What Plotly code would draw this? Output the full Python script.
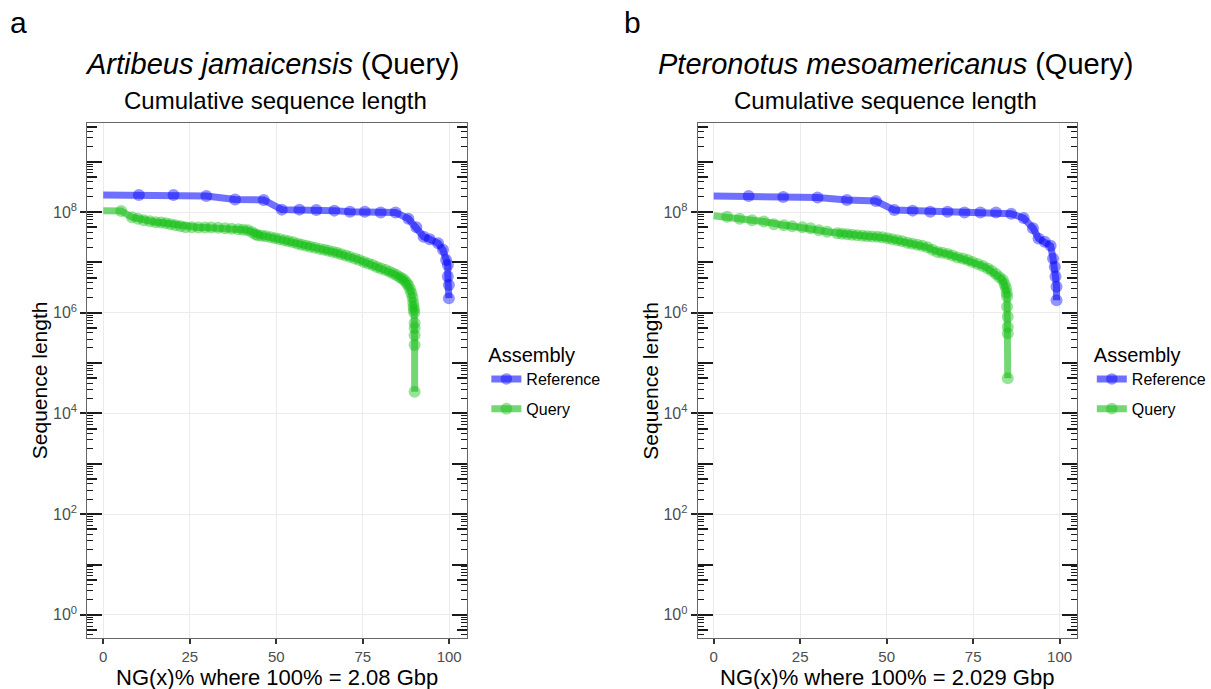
import plotly.graph_objects as go

W, H = 1211, 689

# ---------------- data ----------------
# Panel a: Artibeus jamaicensis
ref_a_x = [0, 10.3, 20.3, 29.8, 38.1, 46.4, 51.6, 56.7, 61.6, 66.8,
           71.3, 75.6, 80.2, 84.5, 88.2, 90.5, 92.6, 94.4, 96.8, 98.2,
           99.1, 99.6, 99.6, 99.9, 99.9]
ref_a_len = [2.19e8, 2.19e8, 2.19e8, 2.09e8, 1.78e8, 1.74e8, 1.12e8, 1.12e8, 1.10e8, 1.07e8,
             1.02e8, 1.02e8, 9.8e7, 9.8e7, 7.4e7, 5.0e7, 3.24e7, 2.88e7, 2.4e7, 1.78e7,
             1.12e7, 8.9e6, 5.25e6, 3.55e6, 1.95e6]

qry_a_x = [0, 5.2, 8.3, 10.0, 11.7, 13.5, 15.2, 16.7, 18.1, 19.5,
           20.9, 22.4, 23.8, 25.6, 27.5, 29.4, 31.2, 33.2, 35.2, 37.1,
           39.0, 40.4, 41.8, 43.0, 44.0, 44.7, 45.8, 47.0, 48.4, 49.7,
           51.0, 52.4, 53.6, 54.9, 56.2, 57.4, 58.7, 59.9, 61.2, 62.6,
           63.9, 65.1, 66.4, 67.6, 68.8, 70.1, 71.3, 72.7, 74.0, 75.4,
           76.6, 77.9, 79.1, 80.3, 81.6, 82.8, 83.8, 84.8, 85.7, 86.4,
           87.1, 87.7, 88.2, 88.7, 89.1, 89.4, 89.6, 89.7, 89.8, 89.9,
           90.0, 90.0, 90.0, 90.0, 90.0]
qry_a_len = [1.07e8, 1.05e8, 7.9e7, 7.4e7, 6.9e7, 6.6e7, 6.3e7, 6.2e7, 6.0e7, 5.75e7,
             5.5e7, 5.25e7, 5.0e7, 4.98e7, 4.96e7, 4.95e7, 4.93e7, 4.9e7, 4.8e7, 4.68e7,
             4.57e7, 4.47e7, 4.37e7, 3.98e7, 3.63e7, 3.47e7, 3.39e7, 3.31e7, 3.16e7, 3.02e7,
             2.88e7, 2.75e7, 2.63e7, 2.51e7, 2.34e7, 2.24e7, 2.14e7, 2.04e7, 1.95e7, 1.86e7,
             1.78e7, 1.70e7, 1.62e7, 1.55e7, 1.45e7, 1.38e7, 1.29e7, 1.20e7, 1.12e7, 1.02e7,
             9.5e6, 8.9e6, 8.1e6, 7.6e6, 7.1e6, 6.5e6, 6.0e6, 5.6e6, 5.1e6, 4.8e6,
             4.4e6, 3.9e6, 3.5e6, 2.95e6, 2.45e6, 2.0e6, 1.58e6, 1.32e6, 1.15e6, 1.0e6,
             6.3e5, 5.0e5, 3.6e5, 2.3e5, 2.7e4]

# Panel b: Pteronotus mesoamericanus
ref_b_x = [0, 10.1, 20.1, 30.0, 38.5, 46.9, 52.2, 57.5, 62.6, 67.6,
           72.5, 77.1, 81.6, 86.0, 89.6, 92.3, 93.9, 95.7, 97.4, 98.1,
           98.6, 98.8, 99.1, 99.1]
ref_b_len = [2.09e8, 2.09e8, 2.0e8, 1.95e8, 1.74e8, 1.66e8, 1.10e8, 1.07e8, 1.02e8, 1.02e8,
             9.8e7, 9.8e7, 9.8e7, 9.3e7, 7.6e7, 4.8e7, 3.0e7, 2.57e7, 2.14e7, 1.20e7,
             8.1e6, 5.25e6, 3.3e6, 1.78e6]

qry_b_x = [0, 3.9, 7.5, 11.1, 14.5, 17.4, 20.3, 22.7, 25.6, 28.0,
           30.4, 32.8, 35.7, 37.1, 38.6, 40.0, 41.5, 43.0, 44.4, 45.8,
           47.3, 48.7, 50.2, 51.6, 53.1, 54.5, 56.0, 57.4, 58.9, 60.3,
           61.8, 63.2, 64.7, 66.1, 67.6, 69.0, 70.5, 72.0, 73.4, 74.8,
           76.3, 77.8, 79.2, 80.4, 81.6, 82.6, 83.6, 84.1, 84.5, 84.7,
           84.8, 84.8, 85.0, 85.0, 85.0, 85.0]
qry_b_len = [8.5e7, 8.1e7, 7.4e7, 6.9e7, 6.5e7, 5.75e7, 5.5e7, 5.25e7, 5.0e7, 4.8e7,
             4.37e7, 4.07e7, 3.8e7, 3.72e7, 3.63e7, 3.55e7, 3.47e7, 3.39e7, 3.31e7, 3.27e7,
             3.24e7, 3.16e7, 3.02e7, 2.88e7, 2.75e7, 2.63e7, 2.45e7, 2.34e7, 2.24e7, 2.14e7,
             2.0e7, 1.78e7, 1.62e7, 1.55e7, 1.48e7, 1.38e7, 1.26e7, 1.20e7, 1.12e7, 1.02e7,
             9.3e6, 8.5e6, 7.6e6, 6.8e6, 5.9e6, 5.1e6, 4.5e6, 3.7e6, 3.1e6, 2.5e6,
             2.1e6, 1.32e6, 8.3e5, 5.25e5, 3.9e5, 5.0e4]

x_ticks = [0, 25, 50, 75, 100]
y_label_vals = [1e0, 1e2, 1e4, 1e6, 1e8]
y_label_text = ["10<sup>0</sup>", "10<sup>2</sup>", "10<sup>4</sup>", "10<sup>6</sup>", "10<sup>8</sup>"]

panel_letters = ["a", "b"]
species = ["Artibeus jamaicensis", "Pteronotus mesoamericanus"]
x_titles = ["NG(x)% where 100% = 2.08 Gbp", "NG(x)% where 100% = 2.029 Gbp"]
series_names = ["Reference", "Query"]

# ---------------- styling / layout ----------------
FONT = "Liberation Sans, Arial, Helvetica, sans-serif"
BLUE_LINE = "rgba(0,0,255,0.56)"
BLUE_MK = "rgba(0,0,255,0.6)"
GREEN_LINE = "rgba(30,190,30,0.62)"
GREEN_MK = "rgba(20,190,20,0.62)"

def px(xp):
    return xp / W

def py(yp):
    return 1 - yp / H

panels = [
    dict(x0=88, x1=470, title_x=274, sub_x=278, letter_x=8, leg_x=490,
         xa="x", ya="y", legend="legend",
         data=((ref_a_x, ref_a_len), (qry_a_x, qry_a_len))),
    dict(x0=703, x1=1085, title_x=902, sub_x=892, letter_x=627, leg_x=1100,
         xa="x2", ya="y2", legend="legend2",
         data=((ref_b_x, ref_b_len), (qry_b_x, qry_b_len))),
]
Y_TOP, Y_BOT = 123, 638
XR = [-4.6, 105.0]
YR = [-0.46, 9.77]

long_ticks = [10.0 ** k for k in range(0, 10)]
mid_ticks = [5 * 10.0 ** k for k in range(-1, 10)]
short_ticks = [m * 10.0 ** k for k in range(-1, 10) for m in (2, 3, 4, 6, 7, 8, 9)]

fig = go.Figure()
layout = dict(
    width=W, height=H, margin=dict(l=0, r=0, t=0, b=0),
    paper_bgcolor="white", plot_bgcolor="white",
    font=dict(family=FONT, color="black"),
    showlegend=True,
)
annotations = []
overlay_idx = 3

for i, p in enumerate(panels):
    xdom = [px(p["x0"]), px(p["x1"])]
    ydom = [py(Y_BOT), py(Y_TOP)]
    xk = "xaxis" if i == 0 else "xaxis2"
    yk = "yaxis" if i == 0 else "yaxis2"
    layout[xk] = dict(
        domain=xdom, range=XR, anchor=p["ya"], tickmode="array", tickvals=x_ticks,
        ticks="outside", ticklen=5, tickwidth=1.5, tickcolor="#333",
        tickfont=dict(size=15, color="#4d4d4d"),
        showgrid=True, gridcolor="#ebebeb", gridwidth=1, zeroline=False,
        showline=True, linecolor="#666", linewidth=1.2, mirror=True,
    )
    layout[yk] = dict(
        domain=ydom, type="log", range=YR, anchor=p["xa"], tickmode="array",
        tickvals=y_label_vals, ticktext=y_label_text,
        ticks="outside", ticklen=6, tickwidth=2, tickcolor="#222",
        tickfont=dict(size=16, color="#4d4d4d"),
        showgrid=True, gridcolor="#ebebeb", gridwidth=1, zeroline=False,
        showline=True, linecolor="#666", linewidth=1.2, mirror=True,
    )
    # annotation_logticks-style inner ticks (long / mid / short), both sides
    for vals, ln, wd in ((long_ticks, 15, 1.8), (mid_ticks, 10, 1.5), (short_ticks, 6, 1.3)):
        key = "yaxis%d" % overlay_idx
        layout[key] = dict(
            domain=ydom, type="log", range=YR, anchor=p["xa"], overlaying=p["ya"],
            side="left", tickmode="array", tickvals=vals, showticklabels=False,
            ticks="inside", ticklen=ln, tickwidth=wd, tickcolor="#1a1a1a",
            showgrid=False, zeroline=False, showline=False, mirror="ticks",
        )
        fig.add_trace(go.Scatter(x=[None], y=[None], xaxis=p["xa"], yaxis="y%d" % overlay_idx,
                                 showlegend=False, hoverinfo="skip", mode="markers"))
        overlay_idx += 1

    colors = ((BLUE_LINE, BLUE_MK), (GREEN_LINE, GREEN_MK))
    for (xs, ys), name, (lc, mc) in zip(p["data"], series_names, colors):
        sizes = [0] + [12] * (len(xs) - 1)
        fig.add_trace(go.Scatter(
            x=xs, y=ys, mode="lines+markers", name=name,
            line=dict(color=lc, width=7),
            marker=dict(color=mc, size=sizes, line=dict(width=0)),
            xaxis=p["xa"], yaxis=p["ya"], legend=p["legend"],
            legendgroup=p["legend"] + name,
        ))

    leg = dict(
        x=px(p["leg_x"]), y=py(336), xanchor="left", yanchor="top",
        title=dict(text="Assembly", font=dict(size=20, color="black")),
        font=dict(size=16, color="black"), bgcolor="rgba(0,0,0,0)",
        traceorder="grouped", tracegroupgap=6, itemwidth=30,
    )
    layout[p["legend"]] = leg

    cx = (p["x0"] + p["x1"]) / 2
    annotations += [
        dict(text=panel_letters[i], x=px(p["letter_x"]), y=py(22), xref="paper", yref="paper",
             xanchor="left", yanchor="middle", showarrow=False, font=dict(size=30)),
        dict(text="<i>%s</i> (Query)" % species[i], x=px(p["title_x"]), y=py(64),
             xref="paper", yref="paper", xanchor="center", yanchor="middle",
             showarrow=False, font=dict(size=29)),
        dict(text="Cumulative sequence length", x=px(p["sub_x"]), y=py(101),
             xref="paper", yref="paper", xanchor="center", yanchor="middle",
             showarrow=False, font=dict(size=24)),
        dict(text=x_titles[i], x=px(cx), y=py(677), xref="paper", yref="paper",
             xanchor="center", yanchor="middle", showarrow=False, font=dict(size=22)),
        dict(text="Sequence length", x=px(p["x0"] - 48), y=py((Y_TOP + Y_BOT) / 2),
             xref="paper", yref="paper", xanchor="center", yanchor="middle",
             textangle=-90, showarrow=False, font=dict(size=21)),
    ]

layout["annotations"] = annotations
fig.update_layout(**layout)
fig.write_html("out.html")
